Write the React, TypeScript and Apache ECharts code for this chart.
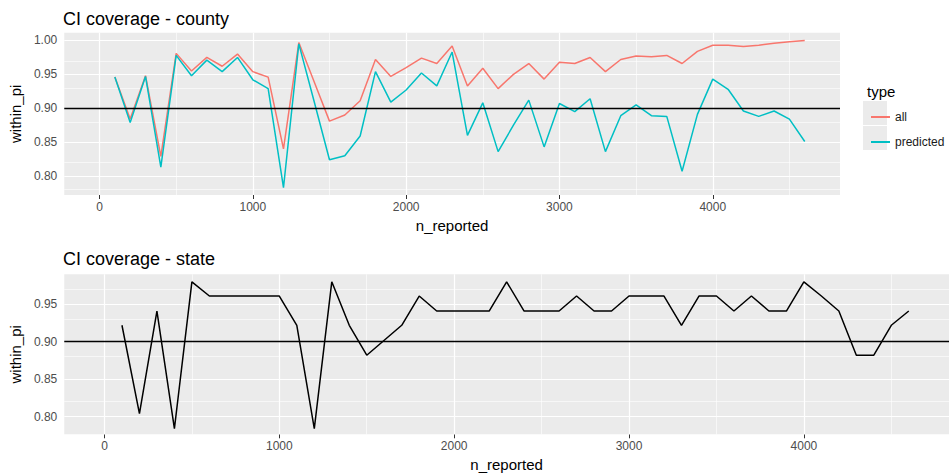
import React, { useEffect, useRef } from "react";
import * as echarts from "echarts";

const nReported = [100, 200, 300, 400, 500, 600, 700, 800, 900, 1000, 1100, 1200, 1300, 1400, 1500, 1600, 1700, 1800, 1900, 2000, 2100, 2200, 2300, 2400, 2500, 2600, 2700, 2800, 2900, 3000, 3100, 3200, 3300, 3400, 3500, 3600, 3700, 3800, 3900, 4000, 4100, 4200, 4300, 4400, 4500, 4600];

const countyAll = [0.946, 0.884, 0.948, 0.829, 0.981, 0.955, 0.975, 0.962, 0.980, 0.954, 0.946, 0.840, 0.997, 0.939, 0.881, 0.890, 0.911, 0.972, 0.947, 0.960, 0.974, 0.966, 0.992, 0.933, 0.959, 0.929, 0.950, 0.966, 0.943, 0.968, 0.966, 0.975, 0.954, 0.972, 0.977, 0.976, 0.978, 0.966, 0.984, 0.993, 0.993, 0.991, 0.993, 0.996, 0.998, 1.000];

const countyPredicted = [0.946, 0.879, 0.947, 0.813, 0.978, 0.948, 0.971, 0.954, 0.975, 0.942, 0.929, 0.783, 0.995, 0.910, 0.824, 0.830, 0.859, 0.954, 0.909, 0.927, 0.952, 0.933, 0.983, 0.860, 0.908, 0.836, 0.875, 0.912, 0.843, 0.907, 0.895, 0.914, 0.836, 0.889, 0.905, 0.889, 0.888, 0.807, 0.891, 0.943, 0.928, 0.896, 0.888, 0.896, 0.884, 0.851];

const stateCov = [0.922, 0.804, 0.941, 0.784, 0.980, 0.961, 0.961, 0.961, 0.961, 0.961, 0.922, 0.784, 0.980, 0.922, 0.882, 0.902, 0.922, 0.961, 0.941, 0.941, 0.941, 0.941, 0.980, 0.941, 0.941, 0.941, 0.961, 0.941, 0.941, 0.961, 0.961, 0.961, 0.922, 0.961, 0.961, 0.941, 0.961, 0.941, 0.941, 0.980, 0.961, 0.941, 0.882, 0.882, 0.922, 0.941];

const xMajor = [0, 1000, 2000, 3000, 4000];
const xMinor = [500, 1500, 2500, 3500, 4500];
const yMajorTop = [0.8, 0.85, 0.9, 0.95, 1.0];
const yMinorTop = [0.775, 0.825, 0.875, 0.925, 0.975];
const yMajorBottom = [0.8, 0.85, 0.9, 0.95];
const yMinorBottom = [0.825, 0.875, 0.925, 0.975];
const refLine = 0.9;

const FONT = "Liberation Sans, Arial, Helvetica, sans-serif";
const RED = "#F8766D";
const CYAN = "#00BFC4";

function zip(xs: number[], ys: number[]) {
  return xs.map((x, i) => [x, ys[i]]);
}

function gridSeries(idx: number, yMaj: number[], yMin: number[]) {
  const major = { color: "#FFFFFF", width: 1.2, type: "solid" };
  const minor = { color: "#FFFFFF", width: 0.6, type: "solid" };
  return {
    type: "line",
    name: "grid" + idx,
    xAxisIndex: idx,
    yAxisIndex: idx,
    data: [],
    silent: true,
    z: 1,
    markLine: {
      silent: true,
      z: 1,
      symbol: ["none", "none"],
      label: { show: false },
      emphasis: { disabled: true },
      data: [
        ...xMinor.map((v) => ({ xAxis: v, lineStyle: minor })),
        ...yMin.map((v) => ({ yAxis: v, lineStyle: minor })),
        ...xMajor.map((v) => ({ xAxis: v, lineStyle: major })),
        ...yMaj.map((v) => ({ yAxis: v, lineStyle: major })),
      ],
    },
  };
}

function refSeries(idx: number) {
  return {
    type: "line",
    name: "ref" + idx,
    xAxisIndex: idx,
    yAxisIndex: idx,
    data: [],
    silent: true,
    z: 6,
    markLine: {
      silent: true,
      z: 6,
      symbol: ["none", "none"],
      label: { show: false },
      emphasis: { disabled: true },
      data: [{ yAxis: refLine, lineStyle: { color: "#000000", width: 1.3, type: "solid" } }],
    },
  };
}

function xAxisCfg(idx: number) {
  return {
    type: "value",
    gridIndex: idx,
    min: -230,
    max: 4830,
    name: "n_reported",
    nameLocation: "middle",
    nameGap: 23,
    nameTextStyle: { fontFamily: FONT, fontSize: 15, color: "#000000" },
    axisLine: { show: false },
    axisTick: { show: true, length: 4, lineStyle: { color: "#333333", width: 1 }, customValues: xMajor },
    axisLabel: {
      show: true,
      customValues: xMajor,
      margin: 6,
      fontFamily: FONT,
      fontSize: 12,
      color: "#4D4D4D",
      formatter: (v: number) => String(Math.round(v)),
    },
    splitLine: { show: false },
  };
}

function yAxisCfg(idx: number, min: number, max: number, ticks: number[]) {
  return {
    type: "value",
    gridIndex: idx,
    min,
    max,
    name: "within_pi",
    nameLocation: "middle",
    nameRotate: 90,
    nameGap: 36,
    nameTextStyle: { fontFamily: FONT, fontSize: 15, color: "#000000" },
    axisLine: { show: false },
    axisTick: { show: true, length: 4, lineStyle: { color: "#333333", width: 1 }, customValues: ticks },
    axisLabel: {
      show: true,
      customValues: ticks,
      margin: 7,
      fontFamily: FONT,
      fontSize: 12,
      color: "#4D4D4D",
      formatter: (v: number) => v.toFixed(2),
    },
    splitLine: { show: false },
  };
}

export default function App() {
  const ref = useRef<HTMLDivElement>(null);
  useEffect(() => {
    if (!ref.current) return;
    const chart = echarts.init(ref.current, undefined, { renderer: "svg" });
    chart.setOption({
      animation: false,
      backgroundColor: "#FFFFFF",
      textStyle: { fontFamily: FONT },
      title: [
        { text: "CI coverage - county", left: 58, top: 5, textStyle: { fontFamily: FONT, fontSize: 18, fontWeight: "normal", color: "#000000" } },
        { text: "CI coverage - state", left: 58, top: 245, textStyle: { fontFamily: FONT, fontSize: 18, fontWeight: "normal", color: "#000000" } },
        { text: "type", left: 862, top: 79, textStyle: { fontFamily: FONT, fontSize: 15, fontWeight: "normal", color: "#000000" } },
      ],
      graphic: [
        { type: "rect", left: 863, top: 101, shape: { width: 24, height: 24 }, style: { fill: "#EBEBEB" }, z: 0 },
        { type: "rect", left: 863, top: 126, shape: { width: 24, height: 24 }, style: { fill: "#EBEBEB" }, z: 0 },
      ],
      legend: {
        data: ["all", "predicted"],
        orient: "vertical",
        left: 866,
        top: 105,
        icon: "rect",
        itemWidth: 19,
        itemHeight: 2,
        itemGap: 11,
        textStyle: { fontFamily: FONT, fontSize: 12, color: "#1A1A1A", lineHeight: 14 },
        selectedMode: false,
      },
      grid: [
        { left: 59.3, top: 32.7, width: 780.7, height: 162.3, show: true, backgroundColor: "#EBEBEB", borderWidth: 0 },
        { left: 59.3, top: 274.3, width: 896.7, height: 160, show: true, backgroundColor: "#EBEBEB", borderWidth: 0 },
      ],
      xAxis: [xAxisCfg(0), xAxisCfg(1)],
      yAxis: [
        yAxisCfg(0, 0.772, 1.0115, yMajorTop),
        yAxisCfg(1, 0.7765, 0.99, yMajorBottom),
      ],
      series: [
        gridSeries(0, yMajorTop, yMinorTop),
        gridSeries(1, yMajorBottom, yMinorBottom),
        {
          type: "line",
          name: "all",
          xAxisIndex: 0,
          yAxisIndex: 0,
          data: zip(nReported, countyAll),
          showSymbol: false,
          symbol: "none",
          z: 3,
          itemStyle: { color: RED },
          lineStyle: { color: RED, width: 1.5 },
        },
        {
          type: "line",
          name: "predicted",
          xAxisIndex: 0,
          yAxisIndex: 0,
          data: zip(nReported, countyPredicted),
          showSymbol: false,
          symbol: "none",
          z: 3,
          itemStyle: { color: CYAN },
          lineStyle: { color: CYAN, width: 1.5 },
        },
        {
          type: "line",
          name: "state",
          xAxisIndex: 1,
          yAxisIndex: 1,
          data: zip(nReported, stateCov),
          showSymbol: false,
          symbol: "none",
          z: 3,
          itemStyle: { color: "#000000" },
          lineStyle: { color: "#000000", width: 1.5 },
        },
        refSeries(0),
        refSeries(1),
      ],
    });
    return () => chart.dispose();
  }, []);
  return (
    <div
      ref={ref}
      style={{ position: "absolute", left: 0, top: 0, width: 949, height: 476, overflow: "hidden" }}
    />
  );
}
